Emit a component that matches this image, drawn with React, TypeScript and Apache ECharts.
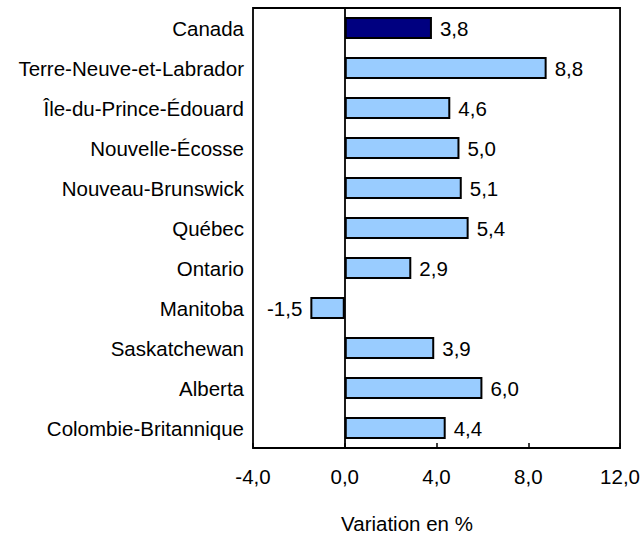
import React, { useEffect, useRef } from "react";
import * as echarts from "echarts";

const categories = [
  "Canada",
  "Terre-Neuve-et-Labrador",
  "Île-du-Prince-Édouard",
  "Nouvelle-Écosse",
  "Nouveau-Brunswick",
  "Québec",
  "Ontario",
  "Manitoba",
  "Saskatchewan",
  "Alberta",
  "Colombie-Britannique",
];
const values = [3.8, 8.8, 4.6, 5.0, 5.1, 5.4, 2.9, -1.5, 3.9, 6.0, 4.4];
const axisTitle = "Variation en %";

const FONT = "'Liberation Sans', Arial, Helvetica, sans-serif";
const FS = 20.5;
const fmt = (v: number) => v.toFixed(1).replace(".", ",");

export default function App() {
  const ref = useRef<HTMLDivElement>(null);
  useEffect(() => {
    if (!ref.current) return;
    const chart = echarts.init(ref.current, null, { renderer: "svg" });
    chart.setOption({
      animation: false,
      grid: {
        left: 253,
        right: 22,
        top: 8,
        bottom: 90,
        show: true,
        borderColor: "#000",
        borderWidth: 1.8,
        backgroundColor: "transparent",
      },
      xAxis: {
        type: "value",
        min: -4,
        max: 12,
        interval: 4,
        axisLine: { show: false },
        axisTick: { show: true, inside: true, length: 5, lineStyle: { color: "#000", width: 1.5 } },
        splitLine: { show: false },
        axisLabel: {
          color: "#000",
          fontFamily: FONT,
          fontSize: FS,
          margin: 18,
          formatter: (v: number) => fmt(v),
        },
      },
      yAxis: {
        type: "category",
        data: categories,
        inverse: true,
        axisLine: { show: true, onZero: true, lineStyle: { color: "#000", width: 1.8 } },
        axisTick: { show: false },
        axisLabel: { color: "#000", fontFamily: FONT, fontSize: FS, margin: 9 },
      },
      series: [
        {
          type: "bar",
          data: values.map((v, i) => ({
            value: v,
            itemStyle: { color: i === 0 ? "#000080" : "#99CCFF" },
            label: v < 0 ? { position: "left" } : undefined,
          })),
          barCategoryGap: "45%",
          itemStyle: { borderColor: "#000", borderWidth: 2 },
          label: {
            show: true,
            position: "right",
            distance: 8,
            color: "#000",
            fontFamily: FONT,
            fontSize: FS,
            formatter: (p: any) => fmt(p.value),
          },
        },
      ],
      graphic: [
        {
          type: "text",
          x: 407,
          y: 523,
          style: {
            text: axisTitle,
            fill: "#000",
            font: `${FS}px ${FONT}`,
            textAlign: "center",
            textVerticalAlign: "middle",
          },
        },
      ],
    });
    return () => chart.dispose();
  }, []);
  return (
    <div
      ref={ref}
      style={{ position: "absolute", left: 0, top: 0, width: 643, height: 538 }}
    />
  );
}
